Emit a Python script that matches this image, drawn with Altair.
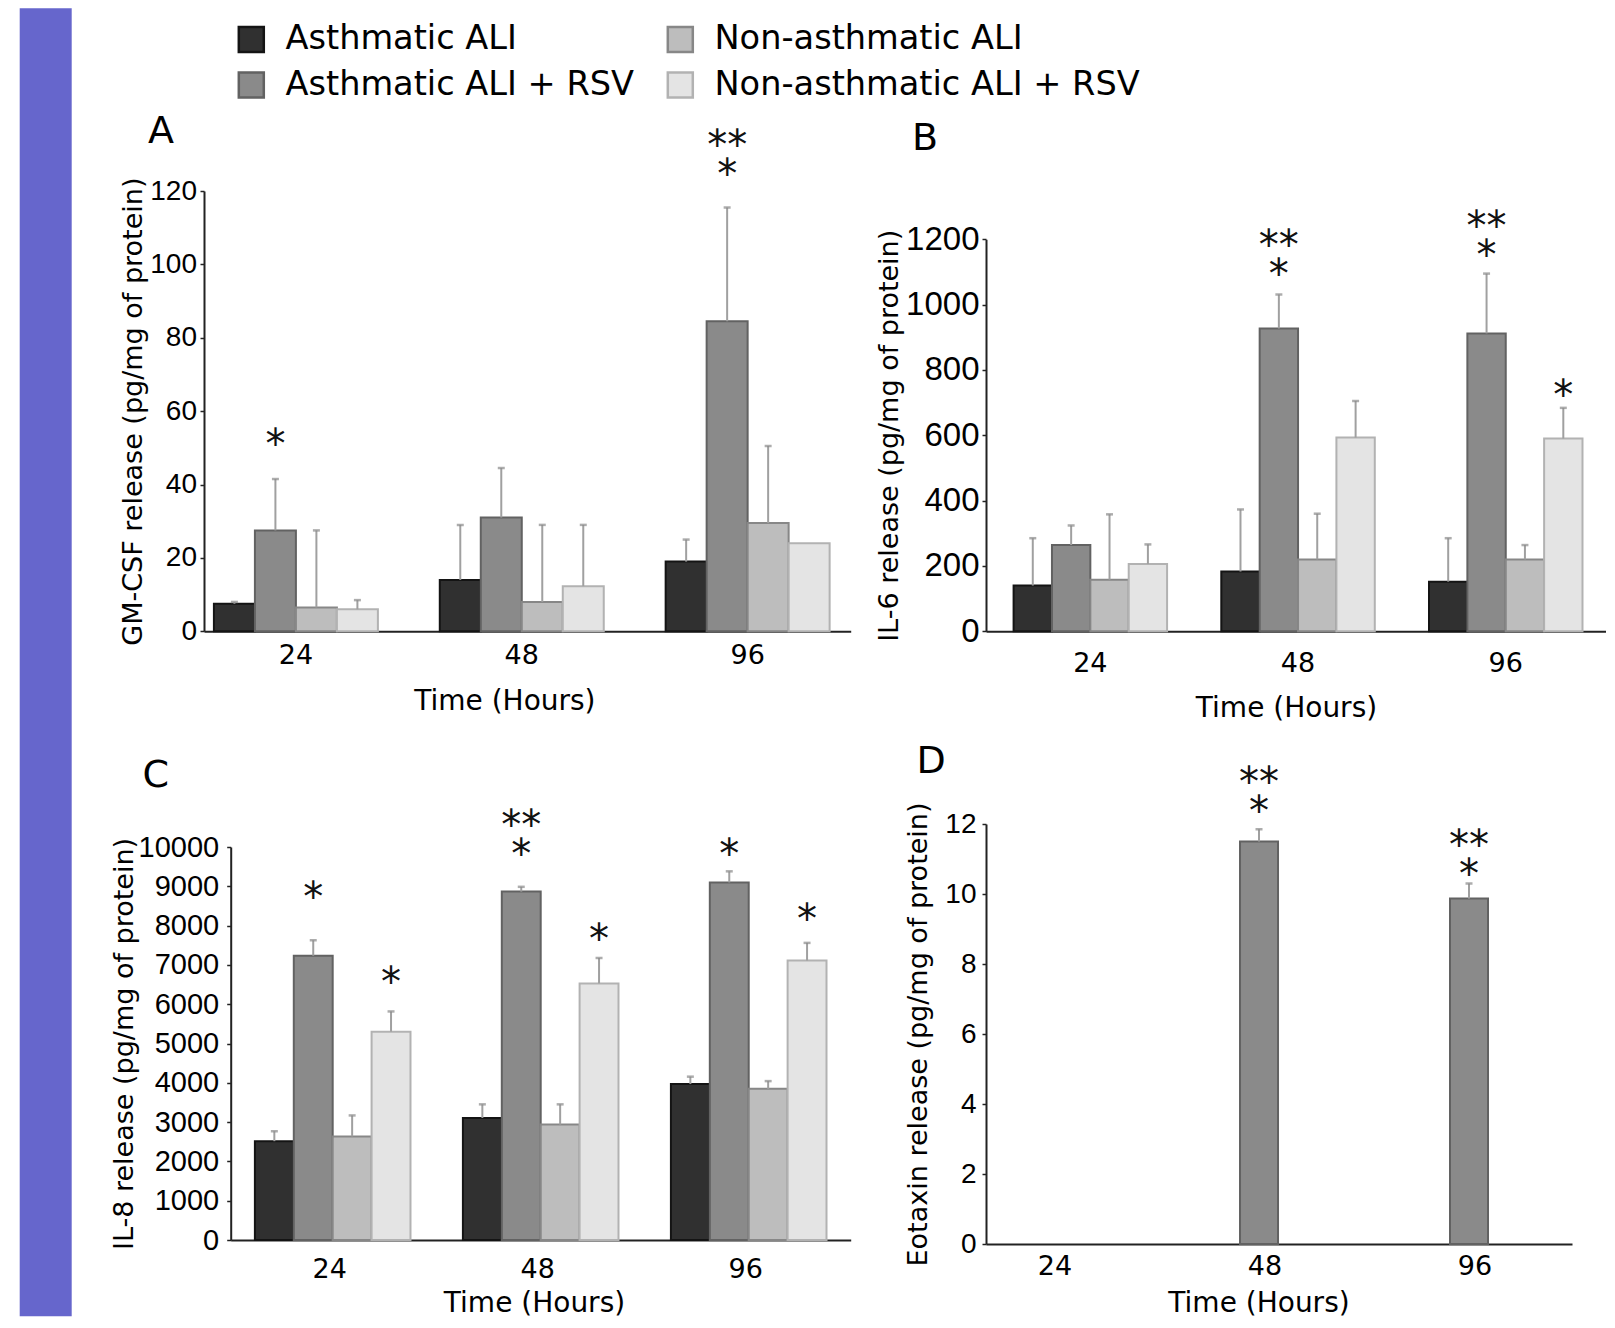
import altair as alt
import pandas as pd

# ---------------- data ----------------
times = ["24", "48", "96"]
groups = ["Asthmatic ALI", "Asthmatic ALI + RSV", "Non-asthmatic ALI", "Non-asthmatic ALI + RSV"]
legend_order = ["Asthmatic ALI", "Non-asthmatic ALI", "Asthmatic ALI + RSV", "Non-asthmatic ALI + RSV"]
fill_colors = ["#303030", "#bdbdbd", "#8a8a8a", "#e4e4e4"]
stroke_colors = ["#141414", "#878787", "#626262", "#b2b2b2"]

# A: GM-CSF (mean, top of error bar)
gm_asth = [7.5, 14.0, 19.0]
gm_asth_top = [8.0, 29.0, 25.0]
gm_asth_rsv = [27.5, 31.0, 84.5]
gm_asth_rsv_top = [41.5, 44.5, 115.5]
gm_non = [6.5, 8.0, 29.5]
gm_non_top = [27.5, 29.0, 50.5]
gm_non_rsv = [6.0, 12.3, 24.0]
gm_non_rsv_top = [8.5, 29.0, 24.0]
gm_star_time = ["24", "96"]
gm_star_group = ["Asthmatic ALI + RSV", "Asthmatic ALI + RSV"]
gm_star_text = ["*", "**\n*"]
gm_star_y = [53.2, 134.8]

# B: IL-6
il6_asth = [140, 183, 152]
il6_asth_top = [285, 373, 285]
il6_asth_rsv = [264, 927, 912]
il6_asth_rsv_top = [324, 1031, 1095]
il6_non = [158, 220, 220]
il6_non_top = [358, 360, 264]
il6_non_rsv = [206, 593, 590]
il6_non_rsv_top = [266, 705, 684]
il6_star_time = ["48", "96", "96"]
il6_star_group = ["Asthmatic ALI + RSV", "Asthmatic ALI + RSV", "Non-asthmatic ALI + RSV"]
il6_star_text = ["**\n*", "**\n*", "*"]
il6_star_y = [1206, 1266, 749]

# C: IL-8
il8_asth = [2514, 3105, 3968]
il8_asth_top = [2767, 3452, 4156]
il8_asth_rsv = [7233, 8865, 9099]
il8_asth_rsv_top = [7627, 8987, 9381]
il8_non = [2636, 2936, 3846]
il8_non_top = [3170, 3452, 4043]
il8_non_rsv = [5300, 6529, 7110]
il8_non_rsv_top = [5816, 7176, 7560]
il8_star_time = ["24", "24", "48", "48", "96", "96"]
il8_star_group = ["Asthmatic ALI + RSV", "Non-asthmatic ALI + RSV", "Asthmatic ALI + RSV",
                  "Non-asthmatic ALI + RSV", "Asthmatic ALI + RSV", "Non-asthmatic ALI + RSV"]
il8_star_text = ["*", "*", "**\n*", "*", "*", "*"]
il8_star_y = [8930, 6760, 10754, 7860, 10036, 8359]

# D: Eotaxin
eo_asth = [0, 0, 0]
eo_asth_top = [0, 0, 0]
eo_asth_rsv = [0, 11.5, 9.87]
eo_asth_rsv_top = [0, 11.85, 10.3]
eo_non = [0, 0, 0]
eo_non_top = [0, 0, 0]
eo_non_rsv = [0, 0, 0]
eo_non_rsv_top = [0, 0, 0]
eo_star_time = ["48", "96"]
eo_star_group = ["Asthmatic ALI + RSV", "Asthmatic ALI + RSV"]
eo_star_text = ["**\n*", "**\n*"]
eo_star_y = [13.44, 11.62]


def build_df(means, tops):
    rows = []
    for g, m, e in zip(groups, means, tops):
        for t, v, top in zip(times, m, e):
            rows.append({"time": t, "group": g, "value": v, "err": top})
    return pd.DataFrame(rows)


def build_stars(t, g, txt, y):
    return pd.DataFrame({"time": t, "group": g, "label": txt, "ypos": y})


dfA = build_df([gm_asth, gm_asth_rsv, gm_non, gm_non_rsv],
               [gm_asth_top, gm_asth_rsv_top, gm_non_top, gm_non_rsv_top])
dfB = build_df([il6_asth, il6_asth_rsv, il6_non, il6_non_rsv],
               [il6_asth_top, il6_asth_rsv_top, il6_non_top, il6_non_rsv_top])
dfC = build_df([il8_asth, il8_asth_rsv, il8_non, il8_non_rsv],
               [il8_asth_top, il8_asth_rsv_top, il8_non_top, il8_non_rsv_top])
dfD = build_df([eo_asth, eo_asth_rsv, eo_non, eo_non_rsv],
               [eo_asth_top, eo_asth_rsv_top, eo_non_top, eo_non_rsv_top])
stA = build_stars(gm_star_time, gm_star_group, gm_star_text, gm_star_y)
stB = build_stars(il6_star_time, il6_star_group, il6_star_text, il6_star_y)
stC = build_stars(il8_star_time, il8_star_group, il8_star_text, il8_star_y)
stD = build_stars(eo_star_time, eo_star_group, eo_star_text, eo_star_y)

# ---------------- styling ----------------
color_scale = alt.Scale(domain=legend_order, range=fill_colors)
stroke_scale = alt.Scale(domain=legend_order, range=stroke_colors)
legend = alt.Legend(
    orient="none", legendX=30.5, legendY=-168.7, columns=2, direction="horizontal", title=None,
    symbolType="square", symbolSize=625, symbolStrokeColor="black", symbolStrokeWidth=2.5,
    labelFont="DejaVu Sans", labelFontSize=33.6, labelColor="black", labelOffset=17.4,
    columnPadding=28, rowPadding=10, padding=0, labelLimit=0,
)


def make_panel(df, stars, cfg, extra=None):
    xs_kw = dict(domain=times, paddingInner=cfg["pi"], paddingOuter=cfg["po"], align=cfg["align"])
    if "xrange" in cfg:
        xs_kw["range"] = cfg["xrange"]
    xs = alt.Scale(**xs_kw)
    xaxis = alt.Axis(
        title="Time (Hours)", labelAngle=0, ticks=False,
        labelPadding=cfg["xlp"], titlePadding=cfg["xtp"], labelOffset=cfg["xlo"],
        titleX=cfg["xtx"],
        labelFont="DejaVu Sans", labelFontSize=27,
        titleFont="DejaVu Sans", titleFontSize=28, titleFontWeight="normal",
    )
    X = alt.X("time:N", scale=xs, axis=xaxis, title="Time (Hours)")
    XO = alt.XOffset("group:N", scale=alt.Scale(domain=groups, paddingInner=0, paddingOuter=0))
    ys_kw = dict(domain=[0, cfg["ymax"]], nice=False, zero=True)
    if "yrange" in cfg:
        ys_kw["range"] = cfg["yrange"]
    ys = alt.Scale(**ys_kw)
    ya_kw = dict(
        title=cfg["ytitle"], values=list(range(0, cfg["ymax"] + 1, cfg["ystep"])), format="d",
        labelFont="Liberation Sans", labelFontSize=cfg["ylfs"], labelPadding=cfg["ylp"],
        tickSize=4, titleFont="DejaVu Sans", titleFontSize=27, titleFontWeight="normal",
        titleX=cfg["ytx"], titleBaseline="middle",
    )
    if "yoffset" in cfg:
        ya_kw["offset"] = cfg["yoffset"]
    yaxis = alt.Axis(**ya_kw)

    def Y(f):
        return alt.Y(f + ":Q", scale=ys, axis=yaxis, title=cfg["ytitle"])

    base = alt.Chart(df)
    bars = base.transform_filter("datum.value > 0").mark_bar(strokeWidth=2).encode(
        x=X, xOffset=XO, y=Y("value"),
        color=alt.Color("group:N", scale=color_scale, legend=legend),
        stroke=alt.Stroke("group:N", scale=stroke_scale, legend=None),
    )
    rules = base.transform_filter("datum.err > datum.value").mark_rule(
        color="#a0a0a0", strokeWidth=2).encode(x=X, xOffset=XO, y=Y("value"), y2=alt.Y2("err:Q"))
    caps = base.transform_filter("datum.err > datum.value").mark_tick(
        color="#8a8a8a", thickness=2.5, size=7).encode(x=X, xOffset=XO, y=Y("err"))
    st = alt.Chart(stars).mark_text(
        font="DejaVu Sans", fontSize=40, baseline="alphabetic", dy=22, color="#111",
        lineBreak="\n", lineHeight=29).encode(
        x=X, xOffset=XO, y=Y("ypos"), text="label:N")
    layers = [bars, rules, caps, st]
    if extra is not None:
        layers = [extra] + layers
    return alt.layer(*layers).properties(
        width=cfg["w"], height=cfg["h"],
        title=alt.TitleParams(
            text=cfg["letter"], anchor="start", frame="group", orient="top",
            font="DejaVu Sans", fontSize=38, fontWeight="normal", color="black",
            offset=0, baseline="alphabetic", dx=cfg["ldx"], dy=cfg["ldy"]),
    )


band = alt.Chart(pd.DataFrame({"b": [0]})).mark_rect(color="#6666cc").encode(
    x=alt.value(-184.3), x2=alt.value(-132.3), y=alt.value(-182.7), y2=alt.value(1125.3))

cfgA = dict(letter="A", w=646.7, h=440.3, pi=0.274, po=0.0686, align=0.32,
            ymax=120, ystep=20, ytitle="GM-CSF release (pg/mg of protein)",
            ylfs=28, ylp=3.5, ytx=-71, xlp=11.5, xtp=18.5, xlo=0, xtx=300.4, ldx=-56, ldy=173)
cfgB = dict(letter="B", w=620, h=440.3, yrange=[440.3, 48.3], pi=0.261, po=0.123, align=0.54,
            ymax=1200, ystep=200, ytitle="IL-6 release (pg/mg of protein)",
            ylfs=33, ylp=3, ytx=-97, xlp=19.5, xtp=17.5, xlo=0, xtx=300, ldx=-74, ldy=-3)
cfgC = dict(letter="C", w=643.7, h=416, yrange=[416, 23], xrange=[26.7, 646.7], yoffset=-26.7,
            pi=0.252, po=0.1163, align=0.5,
            ymax=10000, ystep=1000, ytitle="IL-8 release (pg/mg of protein)",
            ylfs=29, ylp=8, ytx=-106, xlp=16.5, xtp=6.5, xlo=-3, xtx=330, ldx=-61.6, ldy=18)
cfgD = dict(letter="D", w=586, h=420, pi=0.276, po=0.0333, align=0.43,
            ymax=12, ystep=2, ytitle="Eotaxin release (pg/mg of protein)",
            ylfs=28, ylp=6, ytx=-68, xlp=9.5, xtp=9.5, xlo=-13, xtx=272.5, ldx=-69.6, ldy=47)

pA = make_panel(dfA, stA, cfgA, extra=band)
pB = make_panel(dfB, stB, cfgB)
pC = make_panel(dfC, stC, cfgC)
pD = make_panel(dfD, stD, cfgD)

chart = alt.concat(
    pA, pB, pC, pD, columns=2, spacing={"row": 192, "column": 135},
    bounds="flush", align="none",
).resolve_scale(
    xOffset="independent"
).properties(
    padding={"left": 11, "top": 0, "right": 0, "bottom": 0}
).configure_view(stroke=None).configure_axis(
    domainColor="#222", domainWidth=2, tickColor="#222", tickWidth=1.5,
    labelColor="black", titleColor="black", grid=False,
)

chart.save("out.html", embed_options={"renderer": "svg", "actions": False})
